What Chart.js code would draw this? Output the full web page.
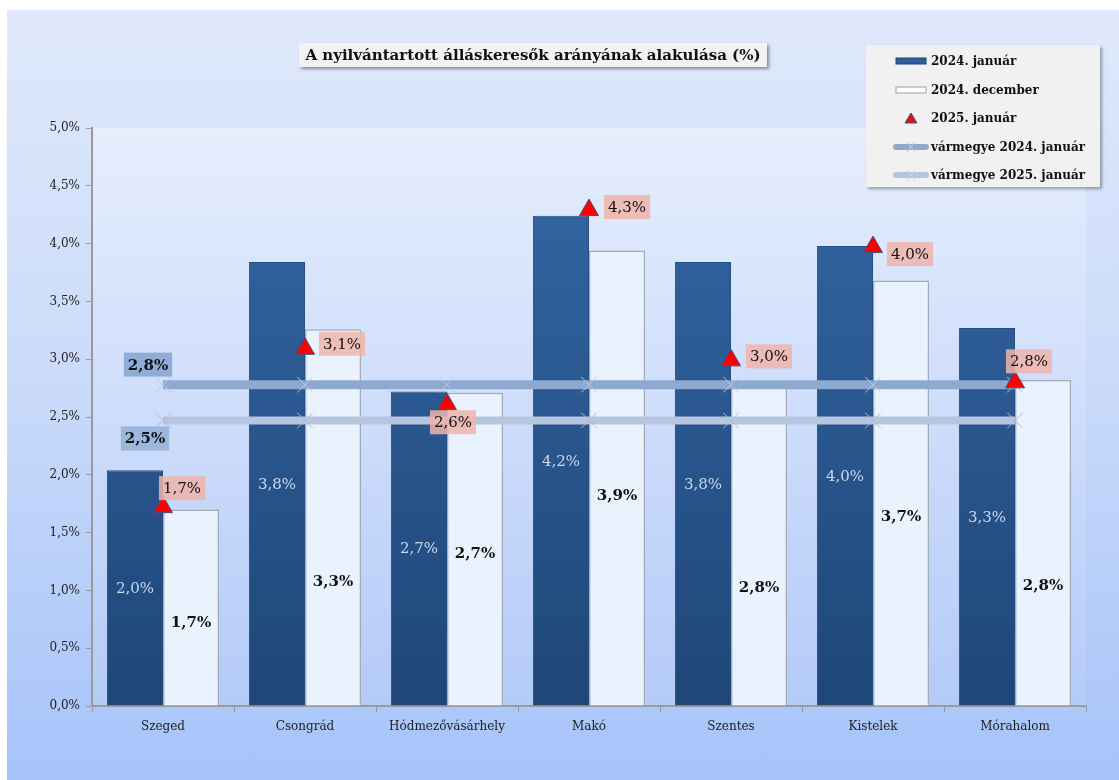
<!DOCTYPE html>
<html lang="hu">
<head>
<meta charset="utf-8">
<title>Álláskeresők aránya</title>
<script src="https://cdn.jsdelivr.net/npm/chart.js@4.4.1/dist/chart.umd.min.js"></script>
<style>
  html, body { margin: 0; padding: 0; background: #ffffff; }
  #panel {
    position: absolute; left: 7px; top: 10px; width: 1112px; height: 770px;
    background: linear-gradient(to bottom, #e0e9fb 0%, #c9daf9 50%, #a6c3f9 100%);
  }
  #wrap { position: absolute; left: 0; top: 0; width: 1119px; height: 780px; }
  #title {
    position: absolute; left: 299px; top: 43px; width: 468px; height: 24px;
    background: #f2f2f2; box-shadow: 2px 2px 3px rgba(0,0,0,0.4);
    font: bold 15px "DejaVu Serif", serif; color: #111;
    text-align: center; line-height: 24px; white-space: nowrap;
  }
  #legend {
    position: absolute; left: 866px; top: 45px; width: 234px; height: 142px;
    background: #f1f1f1; box-shadow: 2px 2px 3px rgba(0,0,0,0.35);
    font: bold 12px "DejaVu Serif", serif; color: #111;
  }
  .li { position: absolute; left: 26px; height: 20px; display: flex; align-items: center; white-space: nowrap; }
  .li svg { width: 38px; height: 14px; margin-right: 1px; }
</style>
</head>
<body>
<div id="panel"></div>
<div id="wrap"><canvas id="c" width="1119" height="780"></canvas></div>
<div id="title">A nyilvántartott álláskeresők arányának alakulása (%)</div>
<div id="legend"></div>
<script>
// települések
const categories = ['Szeged', 'Csongrád', 'Hódmezővásárhely', 'Makó', 'Szentes', 'Kistelek', 'Mórahalom'];

// arányok (%)
const jan2024 = [2.04, 3.84, 2.72, 4.24, 3.84, 3.98, 3.27];
const dec2024 = [1.70, 3.26, 2.71, 3.94, 2.79, 3.68, 2.82];
const jan2025 = [1.72, 3.09, 2.61, 4.29, 2.99, 3.97, 2.80];
const megyeJan2024 = [2.78, 2.78, 2.78, 2.78, 2.78, 2.78, 2.78];
const megyeJan2025 = [2.47, 2.47, 2.47, 2.47, 2.47, 2.47, 2.47];

// tengely
const yTicks = [0, 0.5, 1, 1.5, 2, 2.5, 3, 3.5, 4, 4.5, 5];

const FONT = '"DejaVu Serif", serif';

function fmt(v) {
    return v.toFixed(1).replace('.', ',') + '%';
}

// rajzterület háttere
const areaBg = {
    id: 'areaBg',
    beforeDraw(chart) {
        const { ctx, chartArea: a } = chart;
        const g = ctx.createLinearGradient(0, a.top, 0, a.bottom);
        g.addColorStop(0, '#e6eefd');
        g.addColorStop(1, '#b4cbf8');
        ctx.save();
        ctx.fillStyle = g;
        ctx.fillRect(a.left, a.top, a.right - a.left, a.bottom - a.top);
        ctx.restore();
    }
};

// adatfeliratok
const valueLabels = {
    id: 'valueLabels',
    afterDatasetsDraw(chart) {
        const ctx = chart.ctx;
        const yScale = chart.scales.y;
        chart.data.datasets.forEach((ds, di) => {
            const cfg = ds.valueLabel;
            if (!cfg) return;
            const meta = chart.getDatasetMeta(di);
            meta.data.forEach((el, i) => {
                if (cfg.only !== undefined && cfg.only !== i) return;
                const text = fmt(ds.data[i]);
                let x = el.x;
                let y;
                if (cfg.mode === 'barMiddle') {
                    y = (el.y + el.base) / 2;
                } else if (cfg.mode === 'anchor') {
                    y = yScale.getPixelForValue(cfg.anchor[i]);
                } else {
                    x += cfg.offsets[i][0];
                    y = el.y + cfg.offsets[i][1];
                }
                ctx.save();
                ctx.font = cfg.font;
                ctx.textAlign = 'center';
                ctx.textBaseline = 'middle';
                if (cfg.box) {
                    const w = ctx.measureText(text).width + 8;
                    ctx.fillStyle = cfg.box;
                    ctx.fillRect(x - w / 2, y - 12, w, 24);
                }
                ctx.fillStyle = cfg.color;
                ctx.fillText(text, x, y + 1);
                ctx.restore();
            });
        });
    }
};

function darkFill(context) {
    const a = context.chart.chartArea;
    if (!a) return '#2b5a92';
    const g = context.chart.ctx.createLinearGradient(0, a.top, 0, a.bottom);
    g.addColorStop(0, '#3468a6');
    g.addColorStop(1, '#1f4677');
    return g;
}

const ctx = document.getElementById('c').getContext('2d');
const chart = new Chart(ctx, {
    type: 'bar',
    data: {
        labels: categories,
        datasets: [
            {
                label: 'vármegye 2024. január',
                type: 'line',
                data: megyeJan2024,
                borderColor: '#8ea9d0',
                borderWidth: 9,
                pointStyle: 'crossRot',
                pointRadius: 11,
                pointBorderColor: '#c3cbdb',
                pointBorderWidth: 1,
                order: 1,
                valueLabel: { only: 0, font: 'bold 15px ' + FONT, color: '#111', box: '#8fadd7', offsets: [[-15, -20]] }
            },
            {
                label: 'vármegye 2025. január',
                type: 'line',
                data: megyeJan2025,
                borderColor: '#b7c6df',
                borderWidth: 8,
                pointStyle: 'crossRot',
                pointRadius: 11,
                pointBorderColor: '#b0bccf',
                pointBorderWidth: 1,
                order: 1,
                valueLabel: { only: 0, font: 'bold 15px ' + FONT, color: '#111', box: '#9cb7dd', offsets: [[-18, 18]] }
            },
            {
                label: '2025. január',
                type: 'line',
                data: jan2025,
                showLine: false,
                pointStyle: 'triangle',
                pointRadius: 11,
                pointBackgroundColor: '#ff0000',
                pointBorderColor: '#3d5280',
                pointBorderWidth: 1,
                order: 0,
                valueLabel: {
                    font: '15px ' + FONT, color: '#111', box: 'rgba(240,180,170,0.85)',
                    offsets: [[19, -19], [37, -5], [6, 18], [38, -3], [38, -4], [37, 7], [14, -21]]
                }
            },
            {
                label: '2024. január',
                data: jan2024,
                backgroundColor: darkFill,
                borderColor: '#254e82',
                borderWidth: 1,
                order: 2,
                valueLabel: { mode: 'barMiddle', font: '15px ' + FONT, color: '#c9d8ef' }
            },
            {
                label: '2024. december',
                data: dec2024,
                backgroundColor: '#eaf3fd',
                borderColor: '#a3abb8',
                borderWidth: 1.5,
                order: 2,
                valueLabel: {
                    mode: 'anchor', font: 'bold 15px ' + FONT, color: '#111',
                    anchor: [0.73, 1.08, 1.32, 1.82, 1.03, 1.64, 1.05]
                }
            }
        ]
    },
    options: {
        responsive: false,
        animation: false,
        layout: { padding: { top: 128, right: 33, left: 0, bottom: 0 } },
        datasets: {
            bar: { categoryPercentage: 0.79, barPercentage: 1.0 }
        },
        scales: {
            x: {
                grid: { display: true, drawOnChartArea: false, tickLength: 6, color: '#9a9a9a', lineWidth: 1 },
                border: { color: '#9a9a9a', width: 2 },
                ticks: { color: '#222', font: { family: FONT, size: 12 }, padding: 8 },
                afterFit(s) { s.height = 74; }
            },
            y: {
                min: 0,
                max: 5,
                afterBuildTicks(s) { s.ticks = yTicks.map(v => ({ value: v })); },
                grid: { display: true, drawOnChartArea: false, tickLength: 6, color: '#9a9a9a', lineWidth: 1 },
                border: { color: '#9a9a9a', width: 2 },
                ticks: {
                    color: '#222',
                    font: { family: FONT, size: 12 },
                    padding: 6,
                    callback: v => fmt(v)
                },
                afterFit(s) { s.width = 92; }
            }
        },
        plugins: {
            legend: { display: false },
            title: { display: false },
            tooltip: { enabled: false }
        }
    },
    plugins: [areaBg, valueLabels]
});

// jelmagyarázat
const swatches = {
    '2024. január': '<rect x="4" y="4" width="30" height="6" fill="#2f5f9c" stroke="#1e426f" stroke-width="1"/>',
    '2024. december': '<rect x="4" y="4" width="30" height="6" fill="#ffffff" stroke="#9aa0a8" stroke-width="1"/>',
    '2025. január': '<polygon points="19,2 25,12 13,12" fill="#e01010" stroke="#3d5280" stroke-width="1"/>',
    'vármegye 2024. január': '<line x1="4" y1="7" x2="34" y2="7" stroke="#8ea9d0" stroke-width="6" stroke-linecap="round"/><path d="M15 2 L23 12 M23 2 L15 12" stroke="#c3cbdb" stroke-width="1"/>',
    'vármegye 2025. január': '<line x1="4" y1="7" x2="34" y2="7" stroke="#b7c6df" stroke-width="6" stroke-linecap="round"/><path d="M15 2 L23 12 M23 2 L15 12" stroke="#c8d0de" stroke-width="1"/>'
};
const legendOrder = ['2024. január', '2024. december', '2025. január', 'vármegye 2024. január', 'vármegye 2025. január'];
const legendEl = document.getElementById('legend');
legendOrder.forEach((name, i) => {
    const ds = chart.data.datasets.find(d => d.label === name);
    const row = document.createElement('div');
    row.className = 'li';
    row.style.top = (6 + i * 28.5) + 'px';
    row.innerHTML = '<svg viewBox="0 0 38 14">' + swatches[name] + '</svg><span>' + ds.label + '</span>';
    legendEl.appendChild(row);
});
</script>
</body>
</html>
